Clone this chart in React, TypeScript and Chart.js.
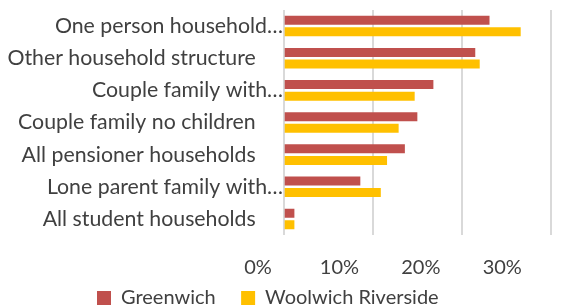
import React, { useEffect, useRef } from "react";
import { Chart, registerables } from "chart.js";

Chart.register(...registerables);

const categories = [
  "One person household…",
  "Other household structure",
  "Couple family with…",
  "Couple family no children",
  "All pensioner households",
  "Lone parent family with…",
  "All student households",
];
const greenwich = [23.1, 21.5, 16.8, 15.0, 13.6, 8.6, 1.2];
const woolwich = [26.6, 22.0, 14.7, 12.9, 11.6, 10.9, 1.2];
const xTickValues = [0, 10, 20, 30];
const seriesNames = ["Greenwich", "Woolwich Riverside"];

const FONT = "Lato";
const SIZE = 20;
const TEXT = "#404040";
const xLabelPad = [0, 3, 6, 9];

export default function App() {
  const ref = useRef<HTMLCanvasElement | null>(null);
  useEffect(() => {
    const ctx = ref.current!;
    const chart = new Chart(ctx, {
      type: "bar",
      data: {
        labels: categories,
        datasets: [
          { label: seriesNames[0], data: greenwich, backgroundColor: "#C0504D", barPercentage: 0.78, categoryPercentage: 0.72 },
          { label: seriesNames[1], data: woolwich, backgroundColor: "#FFC000", barPercentage: 0.78, categoryPercentage: 0.72 },
        ],
      },
      options: {
        indexAxis: "y",
        animation: false,
        responsive: true,
        maintainAspectRatio: false,
        layout: { padding: { top: 10, right: 22, left: 0, bottom: -10 } },
        scales: {
          x: {
            min: xTickValues[0],
            max: xTickValues[xTickValues.length - 1],
            afterBuildTicks: (axis: any) => {
              axis.ticks = xTickValues.map((v) => ({ value: v }));
            },
            afterFit: (axis: any) => {
              axis.height = 43;
              axis.paddingLeft = 0;
              axis.paddingRight = 0;
            },
            grid: { color: "#D9D9D9", lineWidth: 2, drawTicks: false },
            border: { display: false },
            ticks: {
              padding: 20.5,
              labelOffset: -25.7,
              autoSkip: false,
              maxRotation: 0,
              minRotation: 0,
              color: TEXT,
              font: { family: FONT, size: SIZE },
              callback: (v: any, i: number) => v + "%" + " ".repeat(xLabelPad[i] || 0),
            },
          },
          y: {
            afterFit: (axis: any) => {
              axis.width = 283.7;
              axis.paddingTop = 0;
              axis.paddingBottom = 0;
            },
            grid: { display: false, drawTicks: false },
            border: { display: false },
            ticks: {
              padding: 0.7,
              autoSkip: false,
              color: TEXT,
              font: { family: FONT, size: 21.3, lineHeight: 1 },
              callback: (_v: any, i: number) => {
                const l = categories[i];
                return l.endsWith("…") ? l : l + " ".repeat(5);
              },
            },
          },
        },
        plugins: {
          legend: {
            position: "bottom",
            labels: {
              boxWidth: 14,
              boxHeight: 14,
              padding: 10,
              color: TEXT,
              font: { family: FONT, size: SIZE },
              generateLabels: (c: any) => {
                const items = Chart.defaults.plugins.legend.labels.generateLabels(c);
                return items.map((it: any, i: number) => ({
                  ...it,
                  text: it.text + " ".repeat(i === 0 ? 3 : 3),
                }));
              },
            },
          },
          tooltip: { enabled: false },
        },
      },
    });
    return () => chart.destroy();
  }, []);
  return (
    <div style={{ position: "absolute", left: 0, top: 0, width: 573, height: 308 }}>
      <canvas ref={ref} />
    </div>
  );
}
